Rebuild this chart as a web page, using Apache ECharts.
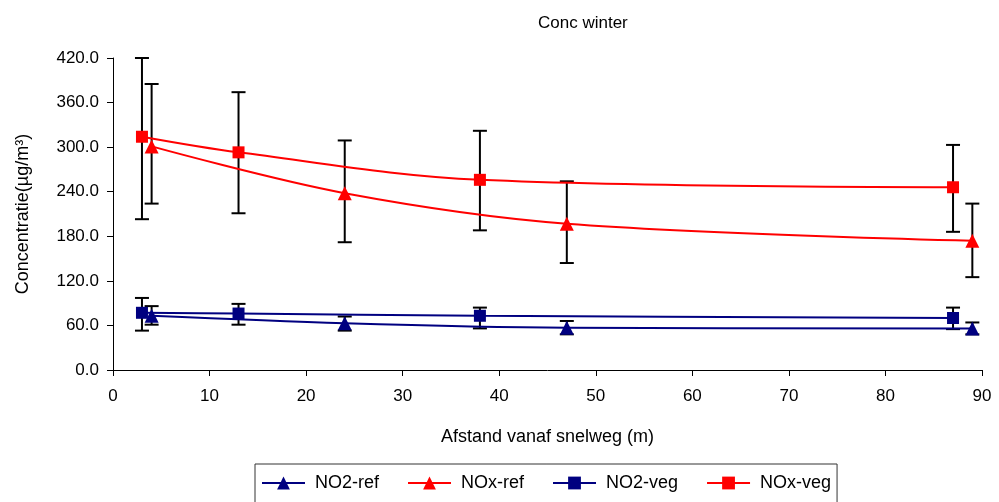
<!DOCTYPE html>
<html>
<head>
<meta charset="utf-8">
<script src="https://cdn.jsdelivr.net/npm/echarts@6/dist/echarts.min.js"></script>
<style>
  html, body { margin: 0; padding: 0; background: #fff; }
  #chart { width: 999px; height: 502px; }
</style>
</head>
<body>
<div id="chart"></div>
<script>
// Distance from the motorway (m) for the two measuring transects
const distRef = [4, 24, 47, 89];
const distVeg = [3, 13, 38, 87];

// Mean winter concentrations (µg/m³)
const no2Ref = [73, 63, 57, 56];
const noxRef = [301, 238, 197, 174];
const no2Veg = [77, 76, 73, 70];
const noxVeg = [314, 293, 256, 246];

// Error bar limits (low, high)
const no2RefLow = [61, 53, 48, 48];
const no2RefHigh = [86, 72, 66, 64];
const noxRefLow = [224, 172, 144, 125];
const noxRefHigh = [385, 309, 254, 224];
const no2VegLow = [53, 61, 56, 55];
const no2VegHigh = [97, 89, 84, 84];
const noxVegLow = [203, 211, 188, 186];
const noxVegHigh = [420, 374, 322, 303];

const yTicks = [0, 60, 120, 180, 240, 300, 360, 420];

const FONT = '"Liberation Sans", Arial, sans-serif';
const NAVY = '#000080';
const RED = '#FF0000';

function pairs(xs, ys) { return xs.map((x, i) => [x, ys[i]]); }
function bars(xs, lo, hi) { return xs.map((x, i) => [x, lo[i], hi[i]]); }

function errorBarItem(params, api) {
  const x = api.value(0);
  const top = api.coord([x, api.value(2)]);
  const bot = api.coord([x, api.value(1)]);
  const half = 7;
  const style = { stroke: '#000', lineWidth: 2 };
  return {
    type: 'group',
    children: [
      { type: 'line', shape: { x1: top[0], y1: top[1], x2: bot[0], y2: bot[1] }, style },
      { type: 'line', shape: { x1: top[0] - half, y1: top[1], x2: top[0] + half, y2: top[1] }, style },
      { type: 'line', shape: { x1: bot[0] - half, y1: bot[1], x2: bot[0] + half, y2: bot[1] }, style }
    ]
  };
}

function errorSeries(data) {
  return {
    type: 'custom',
    renderItem: errorBarItem,
    data: data,
    z: 3,
    silent: true,
    encode: { x: 0, y: [1, 2] }
  };
}

function lineSeries(name, data, color, symbol, size) {
  return {
    name: name,
    type: 'line',
    data: data,
    smooth: 0.35,
    symbol: symbol,
    symbolSize: size,
    lineStyle: { color: color, width: 2 },
    itemStyle: { color: color },
    z: 4
  };
}

const chart = echarts.init(document.getElementById('chart'), null, { renderer: 'canvas' });

chart.setOption({
  animation: false,
  backgroundColor: '#fff',
  textStyle: { fontFamily: FONT },
  title: {
    text: 'Conc winter',
    left: 533,
    top: 10,
    textStyle: { fontFamily: FONT, fontSize: 17, fontWeight: 'normal', color: '#000' }
  },
  grid: { left: 113, right: 17, top: 58, bottom: 132, containLabel: false },
  xAxis: {
    type: 'value',
    min: 0, max: 90, interval: 10,
    name: 'Afstand vanaf snelweg (m)',
    nameLocation: 'middle',
    nameGap: 58,
    nameTextStyle: { fontFamily: FONT, fontSize: 18, color: '#000' },
    axisLine: { show: true, lineStyle: { color: '#000', width: 1 } },
    axisTick: { show: true, inside: false, length: 6, lineStyle: { color: '#000' } },
    axisLabel: { fontFamily: FONT, fontSize: 17, color: '#000', margin: 18 },
    splitLine: { show: false }
  },
  yAxis: {
    type: 'value',
    min: yTicks[0], max: yTicks[yTicks.length - 1], interval: 60,
    name: 'Concentratie(µg/m³)',
    nameLocation: 'middle',
    nameGap: 81,
    nameTextStyle: { fontFamily: FONT, fontSize: 18, color: '#000' },
    axisLine: { show: true, lineStyle: { color: '#000', width: 1 } },
    axisTick: { show: true, inside: false, length: 6, lineStyle: { color: '#000' } },
    axisLabel: {
      fontFamily: FONT, fontSize: 17, color: '#000', margin: 14,
      formatter: v => v.toFixed(1)
    },
    splitLine: { show: false }
  },
  legend: {
    data: ['NO2-ref', 'NOx-ref', 'NO2-veg', 'NOx-veg'],
    left: 255,
    top: 464,
    orient: 'horizontal',
    itemWidth: 43,
    itemHeight: 16,
    itemGap: 28,
    padding: [10, 6, 30, 6],
    borderColor: '#333',
    borderWidth: 1,
    textStyle: { fontFamily: FONT, fontSize: 18, color: '#000', padding: [0, 0, 0, 5] }
  },
  series: [
    errorSeries(bars(distRef, no2RefLow, no2RefHigh)),
    errorSeries(bars(distRef, noxRefLow, noxRefHigh)),
    errorSeries(bars(distVeg, no2VegLow, no2VegHigh)),
    errorSeries(bars(distVeg, noxVegLow, noxVegHigh)),
    lineSeries('NO2-ref', pairs(distRef, no2Ref), NAVY, 'triangle', 14),
    lineSeries('NOx-ref', pairs(distRef, noxRef), RED, 'triangle', 14),
    lineSeries('NO2-veg', pairs(distVeg, no2Veg), NAVY, 'rect', 12),
    lineSeries('NOx-veg', pairs(distVeg, noxVeg), RED, 'rect', 12)
  ]
});
</script>
</body>
</html>
